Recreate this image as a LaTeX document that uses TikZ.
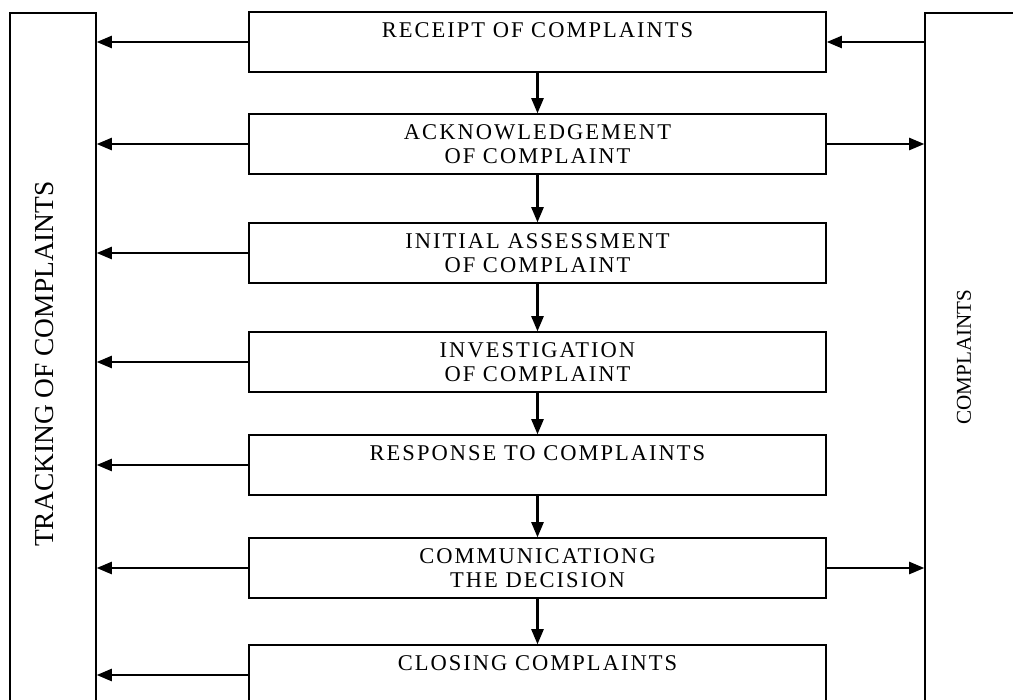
\documentclass[tikz,border=0pt]{standalone}
\usepackage{fontspec}
\setmainfont{Liberation Serif}
\newfontfamily\stagefont{Liberation Serif}[LetterSpace=9]
\usetikzlibrary{arrows.meta, positioning}

\begin{document}
\begin{tikzpicture}[
  x=0.025cm, y=-0.025cm,
  stagebox/.style={rectangle, draw, line width=0.9pt, minimum width=14.425cm, minimum height=1.5cm, inner sep=0pt, align=center, font=\stagefont\fontsize{16}{17}\selectfont},
  sidebox/.style={rectangle, draw, line width=0.9pt, minimum height=18.675cm, inner sep=0pt},
  sidelabel/.style={rotate=90, inner sep=0pt},
  link/.style={-{Triangle[length=0.38cm, width=0.3cm]}, line width=1.8pt},
]
\useasboundingbox (0,0) rectangle (1013,699);
\clip (0,0) rectangle (1013,699);
\fill[white] (0,0) rectangle (1013,699);

% side columns
\node[sidebox, minimum width=2.15cm] (track) at (53, 386.5) {};
\node[sidebox, minimum width=4.375cm] (complaints) at (1012.5, 386.5) {};
\node[sidelabel, font=\fontsize{19.5}{22}\selectfont] (tracklbl) at (45, 364) {TRACKING OF COMPLAINTS};
\node[sidelabel, font=\fontsize{15}{17}\selectfont] (compllbl) at (964, 357) {COMPLAINTS};

% process steps
\node[stagebox] (s1) at (537.5, 42) {RECEIPT OF COMPLAINTS\\\mbox{}};
\node[stagebox] (s2) at (537.5, 144) {ACKNOWLEDGEMENT\\OF COMPLAINT};
\node[stagebox] (s3) at (537.5, 253) {INITIAL ASSESSMENT\\OF COMPLAINT};
\node[stagebox] (s4) at (537.5, 362) {INVESTIGATION\\OF COMPLAINT};
\node[stagebox] (s5) at (537.5, 465) {RESPONSE TO COMPLAINTS\\\mbox{}};
\node[stagebox] (s6) at (537.5, 568) {COMMUNICATIONG\\THE DECISION};
\node[stagebox] (s7) at (537.5, 675) {CLOSING COMPLAINTS\\\mbox{}};

% flow down
\draw[link] (s1) -- (s2);
\draw[link] (s2) -- (s3);
\draw[link] (s3) -- (s4);
\draw[link] (s4) -- (s5);
\draw[link] (s5) -- (s6);
\draw[link] (s6) -- (s7);

% tracking
\draw[link] (s1.west) -- (s1.west -| track.east);
\draw[link] (s2.west) -- (s2.west -| track.east);
\draw[link] (s3.west) -- (s3.west -| track.east);
\draw[link] (s4.west) -- (s4.west -| track.east);
\draw[link] (s5.west) -- (s5.west -| track.east);
\draw[link] (s6.west) -- (s6.west -| track.east);
\draw[link] (s7.west) -- (s7.west -| track.east);

% complaints side
\draw[link] (complaints.west |- s1.east) -- (s1.east);
\draw[link] (s2.east) -- (s2.east -| complaints.west);
\draw[link] (s6.east) -- (s6.east -| complaints.west);
\end{tikzpicture}
\end{document}
